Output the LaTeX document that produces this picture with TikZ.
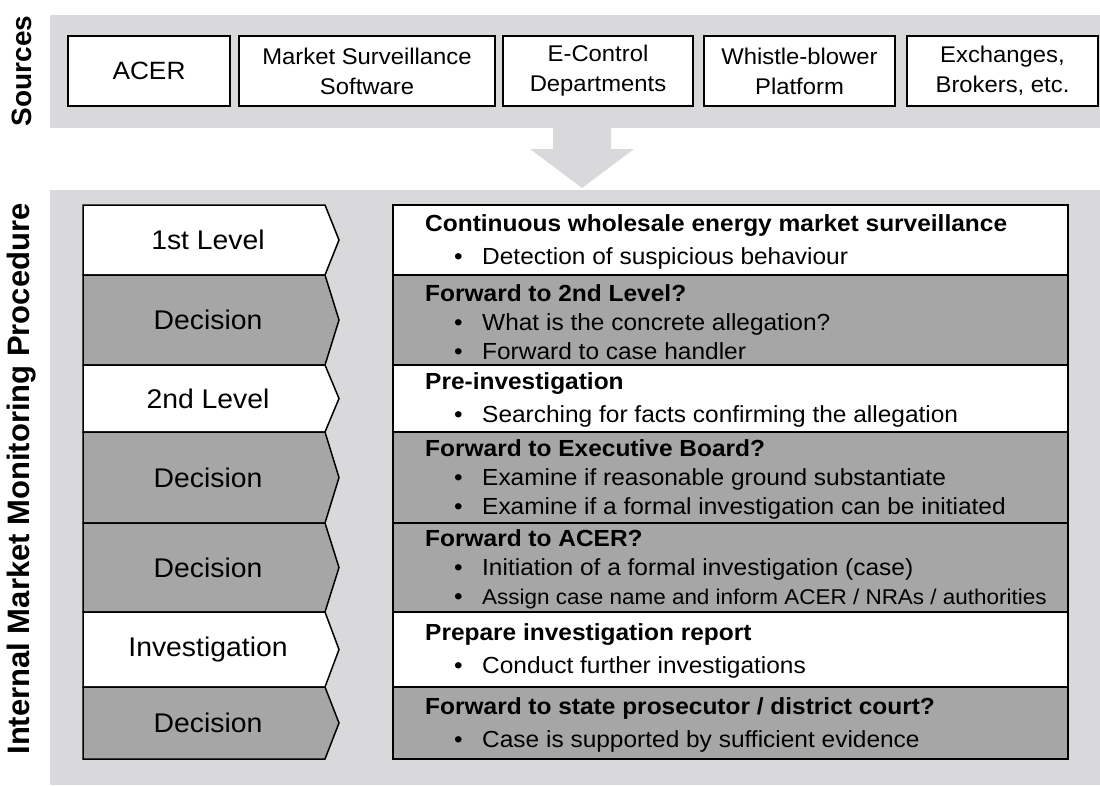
\documentclass[tikz,border=0pt]{standalone}
\usepackage{fontspec}
\setmainfont{Liberation Sans}[FakeStretch=1.05]
\newfontfamily\sidefont{Liberation Sans}
\definecolor{bandgray}{RGB}{217,217,219}
\definecolor{rowgray}{RGB}{166,166,166}
\tikzset{
  srcbox/.style={draw, line width=1.5pt, fill=white, minimum height=70pt, align=center, inner sep=0pt, font=\fontsize{22.7}{30}\selectfont},
  sidelabel/.style={rotate=90, font=\sidefont\bfseries\fontsize{28}{32}\selectfont},
  levellabel/.style={font=\fontsize{27}{30}\selectfont},
  infotext/.style={anchor=west, align=left, inner sep=0pt, font=\fontsize{23.3}{29}\selectfont},
}
% chevron on the left, text box on the right: top, bottom, fill
\newcommand{\levelrow}[3]{%
  \draw[line width=1.5pt, fill=#3] (83,#1) -- (325,#1) -- (339,{(#1+#2)/2}) -- (325,#2) -- (83,#2) -- cycle;
  \draw[line width=1.5pt, fill=#3] (393,#1) rectangle (1068,#2);
}
\newcommand{\itm}[1]{\makebox[57pt][l]{\hspace*{29pt}\textbullet}#1}

\begin{document}
\begin{tikzpicture}[x=1pt, y=-1pt]
  \useasboundingbox (0,0) rectangle (1100,785);

  %%%%% SOURCES %%%%%
  \fill[bandgray] (50,15) rectangle (1100,128);
  \node[sidelabel] (sources) at (22,71) {Sources};

  \node[srcbox, minimum width=162pt, font=\fontsize{25}{28}\selectfont] (acer) at (149,71) {ACER};
  \node[srcbox, minimum width=256pt] (software) at (367,71) {Market Surveillance\\Software};
  \node[srcbox, minimum width=190pt] (econtrol) at (598,71) {E-Control\\Departments};
  \node[srcbox, minimum width=191pt] (whistle) at (799.5,71) {Whistle-blower\\Platform};
  \node[srcbox, minimum width=191pt] (exchanges) at (1002.5,71) {Exchanges,\\Brokers, etc.};

  %%%%% ARROW %%%%%
  \fill[bandgray] (553,127) -- (611,127) -- (611,149) -- (634,149) -- (582,188) -- (530,149) -- (553,149) -- cycle;

  %%%%% PROCEDURE %%%%%
  \fill[bandgray] (50,190) rectangle (1100,785);
  \node[sidelabel, font=\sidefont\bfseries\fontsize{31}{34}\selectfont] (procedure) at (22,479) {Internal Market Monitoring Procedure};

  \levelrow{205}{275}{white}
  \levelrow{275}{365}{rowgray}
  \levelrow{365}{432}{white}
  \levelrow{432}{523}{rowgray}
  \levelrow{523}{612}{rowgray}
  \levelrow{612}{687}{white}
  \levelrow{687}{759}{rowgray}

  \node[levellabel] (level1) at (208,240) {1st Level};
  \node[levellabel] (decision1) at (208,320) {Decision};
  \node[levellabel] (level2) at (208,398.5) {2nd Level};
  \node[levellabel] (decision2) at (208,477.5) {Decision};
  \node[levellabel] (decision3) at (208,567.5) {Decision};
  \node[levellabel] (investigation) at (208,649.5) {Investigation};
  \node[levellabel] (decision4) at (208,723) {Decision};

  \node[infotext] (surveillance) at (425,242) {\textbf{Continuous wholesale energy market surveillance}\\[4pt]
    \itm{Detection of suspicious behaviour}};
  \node[infotext] (forward1) at (425,322) {\textbf{Forward to 2nd Level?}\\
    \itm{What is the concrete allegation?}\\
    \itm{Forward to case handler}};
  \node[infotext] (preinvest) at (425,400) {\textbf{Pre-investigation}\\[4pt]
    \itm{Searching for facts confirming the allegation}};
  \node[infotext] (forward2) at (425,479) {\textbf{Forward to Executive Board?}\\
    \itm{Examine if reasonable ground substantiate}\\
    \itm{Examine if a formal investigation can be initiated}};
  \node[infotext] (forward3) at (425,569) {\textbf{Forward to ACER?}\\
    \itm{Initiation of a formal investigation (case)}\\
    \itm{\fontsize{21.4}{29}\selectfont Assign case name and inform ACER / NRAs / authorities}};
  \node[infotext] (report) at (425,651) {\textbf{Prepare investigation report}\\[4pt]
    \itm{Conduct further investigations}};
  \node[infotext] (forward4) at (425,725) {\textbf{Forward to state prosecutor / district court?}\\[4pt]
    \itm{Case is supported by sufficient evidence}};
\end{tikzpicture}
\end{document}
